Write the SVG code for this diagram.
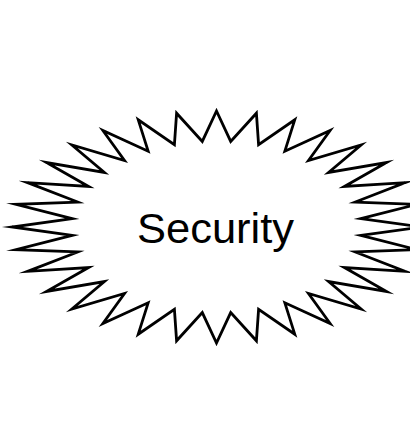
<svg xmlns="http://www.w3.org/2000/svg" width="410" height="438" viewBox="0 0 410 438">
<style>
.burst{fill:#ffffff;stroke:#000000;stroke-width:2.8;stroke-linejoin:miter;stroke-miterlimit:10}
.label{font-family:"Liberation Sans",Arial,sans-serif;font-size:42px;fill:#000000}
</style>
<rect width="410" height="438" fill="#ffffff"/>
<g id="security">
<polygon class="burst" points="421.0,227.0 360.8,218.57 417.07,204.37 355.26,202.04 405.43,182.61 344.38,186.46 386.54,162.55 328.59,172.44 361.10,144.98 308.49,160.52 330.11,130.55 284.85,151.15 294.76,119.83 258.59,144.70 256.40,113.23 230.71,141.41 216.5,111.0 202.29,141.41 176.60,113.23 174.41,144.70 138.24,119.83 148.15,151.15 102.89,130.55 124.51,160.52 71.90,144.98 104.41,172.44 46.46,162.55 88.62,186.46 27.57,182.61 77.74,202.04 15.93,204.37 72.20,218.57 12.0,227.0 72.20,235.43 15.93,249.63 77.74,251.96 27.57,271.39 88.62,267.54 46.46,291.45 104.41,281.56 71.90,309.02 124.51,293.48 102.89,323.45 148.15,302.85 138.24,334.17 174.41,309.30 176.60,340.77 202.29,312.59 216.5,343.0 230.71,312.59 256.40,340.77 258.59,309.30 294.76,334.17 284.85,302.85 330.11,323.45 308.49,293.48 361.10,309.02 328.59,281.56 386.54,291.45 344.38,267.54 405.43,271.39 355.26,251.96 417.07,249.63 360.8,235.43"/>
<text class="label" x="137" y="243" textLength="157" lengthAdjust="spacingAndGlyphs">Security</text>
</g>
<g id="connectors"></g>
</svg>
